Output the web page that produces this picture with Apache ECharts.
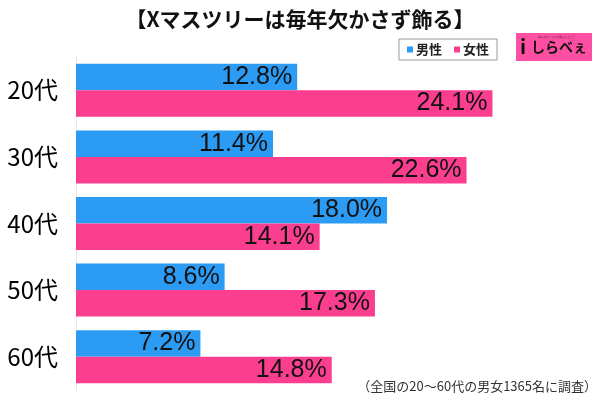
<!DOCTYPE html>
<html><head><meta charset="utf-8">
<script src="https://cdn.jsdelivr.net/npm/echarts@6/dist/echarts.min.js"></script>
<style>html,body{margin:0;padding:0;background:#fff}#c{width:600px;height:400px}</style>
</head><body><div id="c"></div>
<script>
const categories = ['20代', '30代', '40代', '50代', '60代'];
const male = [12.8, 11.4, 18.0, 8.6, 7.2];
const female = [24.1, 22.6, 14.1, 17.3, 14.8];
const seriesNames = ['男性', '女性'];
const titleText = '【Xマスツリーは毎年欠かさず飾る】';
const noteText = '（全国の20～60代の男女1365名に調査）';

const FONT = '"Noto Sans CJK JP", "Noto Sans", sans-serif';
const chart = echarts.init(document.getElementById('c'));
const labelCfg = {
  show: true, position: 'insideRight', distance: 5,
  formatter: p => p.value.toFixed(1) + '%',
  color: '#111', fontSize: 25, fontFamily: '"Liberation Sans", "Noto Sans", sans-serif'
};
chart.setOption({
  backgroundColor: '#fff',
  animation: false,
  title: {
    text: titleText, left: 'center', top: 4,
    textStyle: { fontFamily: FONT, fontSize: 21, fontWeight: 'bold', color: '#111' }
  },
  legend: {
    data: seriesNames, right: 103, top: 39, icon: 'rect', itemWidth: 6, itemHeight: 6, itemGap: 12,
    borderColor: '#999', borderWidth: 1, padding: [4, 8],
    textStyle: { fontFamily: FONT, fontSize: 13, fontWeight: 'bold', color: '#222', padding: [0, 0, 0, -2] }
  },
  grid: { left: 76, top: 57, width: 432, height: 333 },
  xAxis: {
    type: 'value', min: 0, max: 25, show: false
  },
  yAxis: {
    type: 'category', data: categories, inverse: true,
    axisLine: { show: true, lineStyle: { color: '#e6e6e6', width: 1 } },
    axisTick: { show: false },
    axisLabel: { fontFamily: FONT, fontSize: 24, color: '#000', margin: 18 }
  },
  series: [
    { name: seriesNames[0], type: 'bar', data: male, barWidth: 26.5, barGap: '0%',
      itemStyle: { color: '#2c9bf4' }, label: labelCfg },
    { name: seriesNames[1], type: 'bar', data: female, barWidth: 26.5,
      itemStyle: { color: '#fb3f8e' }, label: labelCfg }
  ],
  graphic: [
    { type: 'rect', left: 516, top: 33, shape: { width: 76, height: 28 }, style: { fill: '#ff4fa3' } },
    { type: 'text', left: 538, top: 36, style: { text: '知らなかったを発見しよう!', fill: '#333', font: '3px sans-serif' } },
    { type: 'text', left: 520, top: 36, style: { text: 'i', fill: '#111', font: 'bold 20px "Noto Sans CJK JP"' } },
    { type: 'text', left: 531, top: 40, style: { text: 'しらべぇ', fill: '#111', font: 'bold 14px "Noto Sans CJK JP"' } },
    { type: 'text', right: 3, top: 380, style: { text: noteText, fill: '#333', font: '13px "Noto Sans CJK JP"' } }
  ]
});
</script></body></html>
